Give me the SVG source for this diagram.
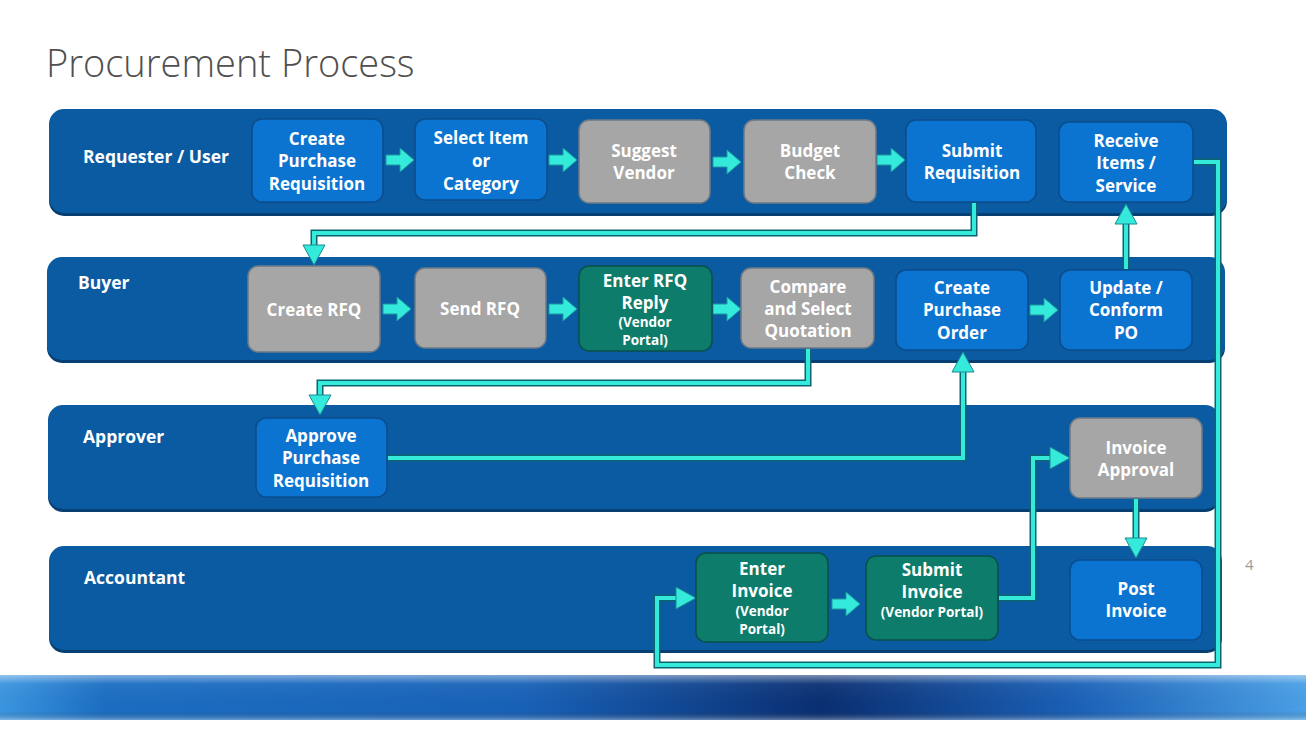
<svg xmlns="http://www.w3.org/2000/svg" width="1306" height="734" viewBox="0 0 1306 734">
<defs>
<style>
.title{font-family:"Open Sans","Liberation Sans",sans-serif;font-weight:300;font-size:38px;fill:#505050}
.lane{fill:#0b5ba2}
.laneShadow{fill:#073f73}
.lbl{font-family:"Open Sans","Liberation Sans",sans-serif;font-weight:700;font-size:17.5px;fill:#ffffff}
.t{font-family:"Open Sans","Liberation Sans",sans-serif;font-weight:700;font-size:17px;fill:#ffffff;text-anchor:middle}
.s{font-family:"Open Sans","Liberation Sans",sans-serif;font-weight:700;font-size:13.5px;fill:#ffffff;text-anchor:middle}
.blue{fill:#0b74d1;stroke:#0a4c8c;stroke-width:1.5}
.gray{fill:#a6a6a6;stroke:#6d7a86;stroke-width:1.5}
.green{fill:#0e7c6b;stroke:#0b4f4a;stroke-width:1.5}
.wireO{fill:none;stroke:#0d6470;stroke-width:7;stroke-linejoin:miter}
.wire{fill:none;stroke:#34eadb;stroke-width:4;stroke-linejoin:miter}
.blk{fill:#34eadb;stroke:#1a9aa0;stroke-width:1}
.pg{font-family:"Open Sans","Liberation Sans",sans-serif;font-size:15px;fill:#9a9a9a}
</style>
<marker id="ah" markerUnits="userSpaceOnUse" markerWidth="24" markerHeight="26" refX="0" refY="0" viewBox="-1 -13 24 26" orient="auto" overflow="visible">
<path d="M0,-11 L20,0 L0,11 Z" fill="#34eadb" stroke="#1a8a92" stroke-width="1"/>
</marker>
<path id="barrow" d="M0,-5 L14,-5 L14,-12 L28,0 L14,12 L14,5 L0,5 Z"/>
<linearGradient id="band" x1="0" y1="0" x2="1" y2="0">
<stop offset="0" stop-color="#3b96e0"/>
<stop offset="0.08" stop-color="#1b6ec3"/>
<stop offset="0.4" stop-color="#1862b8"/>
<stop offset="0.63" stop-color="#0a2f72"/>
<stop offset="0.82" stop-color="#1a60b6"/>
<stop offset="1" stop-color="#4aa0e6"/>
</linearGradient>
<linearGradient id="bandV" x1="0" y1="0" x2="0" y2="1">
<stop offset="0" stop-color="#ffffff" stop-opacity="0.45"/>
<stop offset="0.2" stop-color="#ffffff" stop-opacity="0.05"/>
<stop offset="0.8" stop-color="#000000" stop-opacity="0"/>
<stop offset="1" stop-color="#ffffff" stop-opacity="0.35"/>
</linearGradient>
</defs>
<rect width="1306" height="734" fill="#ffffff"/>
<text class="title" x="46" y="77">Procurement Process</text>

<g id="lanes">
<rect class="laneShadow" x="49" y="112" width="1178" height="104" rx="15"/>
<rect class="lane" x="49" y="109" width="1178" height="104" rx="15"/>
<rect class="laneShadow" x="47" y="260" width="1178" height="103" rx="15"/>
<rect class="lane" x="47" y="257" width="1178" height="103" rx="15"/>
<rect class="laneShadow" x="48" y="408" width="1172" height="104" rx="15"/>
<rect class="lane" x="48" y="405" width="1172" height="104" rx="15"/>
<rect class="laneShadow" x="49" y="549" width="1173" height="104" rx="15"/>
<rect class="lane" x="49" y="546" width="1173" height="104" rx="15"/>
<text class="lbl" x="83" y="163">Requester / User</text>
<text class="lbl" x="78" y="289">Buyer</text>
<text class="lbl" x="83" y="443">Approver</text>
<text class="lbl" x="84" y="584">Accountant</text>
</g>

<g id="connectors">
<path class="wireO" d="M974,203 V233 H314 V245"/>
<path class="wire" d="M974,203 V233 H314 V245" marker-end="url(#ah)"/>
<path class="wireO" d="M808,349 V383 H320 V395"/>
<path class="wire" d="M808,349 V383 H320 V395" marker-end="url(#ah)"/>
<path class="wireO" d="M388,458 H963 V372"/>
<path class="wire" d="M388,458 H963 V372" marker-end="url(#ah)"/>
<path class="wireO" d="M1126,269 V224"/>
<path class="wire" d="M1126,269 V224" marker-end="url(#ah)"/>
<path class="wireO" d="M1194,162 H1218 V665 H657 V598 H676"/>
<path class="wire" d="M1194,162 H1218 V665 H657 V598 H676" marker-end="url(#ah)"/>
<path class="wireO" d="M999,598 H1033 V458 H1050"/>
<path class="wire" d="M999,598 H1033 V458 H1050" marker-end="url(#ah)"/>
<path class="wireO" d="M1136,499 V538"/>
<path class="wire" d="M1136,499 V538" marker-end="url(#ah)"/>
<use href="#barrow" class="blk" transform="translate(386,160)"/>
<use href="#barrow" class="blk" transform="translate(549,160)"/>
<use href="#barrow" class="blk" transform="translate(713,162)"/>
<use href="#barrow" class="blk" transform="translate(877,160)"/>
<use href="#barrow" class="blk" transform="translate(383,309)"/>
<use href="#barrow" class="blk" transform="translate(549,309)"/>
<use href="#barrow" class="blk" transform="translate(713,309)"/>
<use href="#barrow" class="blk" transform="translate(1030,310)"/>
<use href="#barrow" class="blk" transform="translate(832,604)"/>
</g>

<g id="n-create-pr"><rect class="blue" x="252" y="119" width="131" height="83" rx="10"/>
<text class="t" x="317" y="145">Create</text><text class="t" x="317" y="167">Purchase</text><text class="t" x="317" y="190">Requisition</text></g>
<g id="n-select-item"><rect class="blue" x="415" y="119" width="132" height="81" rx="10"/>
<text class="t" x="481" y="144">Select Item</text><text class="t" x="481" y="167">or</text><text class="t" x="481" y="190">Category</text></g>
<g id="n-suggest-vendor"><rect class="gray" x="579" y="120" width="131" height="83" rx="10"/>
<text class="t" x="644" y="157">Suggest</text><text class="t" x="644" y="179">Vendor</text></g>
<g id="n-budget-check"><rect class="gray" x="744" y="120" width="132" height="83" rx="10"/>
<text class="t" x="810" y="157">Budget</text><text class="t" x="810" y="179">Check</text></g>
<g id="n-submit-req"><rect class="blue" x="906" y="120" width="130" height="82" rx="10"/>
<text class="t" x="972" y="157">Submit</text><text class="t" x="972" y="179">Requisition</text></g>
<g id="n-receive-items"><rect class="blue" x="1059" y="122" width="134" height="80" rx="10"/>
<text class="t" x="1126" y="147">Receive</text><text class="t" x="1126" y="169">Items /</text><text class="t" x="1126" y="192">Service</text></g>

<g id="n-create-rfq"><rect class="gray" x="248" y="266" width="132" height="86" rx="10"/>
<text class="t" x="314" y="316">Create RFQ</text></g>
<g id="n-send-rfq"><rect class="gray" x="415" y="268" width="131" height="80" rx="10"/>
<text class="t" x="480" y="315">Send RFQ</text></g>
<g id="n-enter-rfq"><rect class="green" x="579" y="266" width="133" height="85" rx="10"/>
<text class="t" x="645" y="287">Enter RFQ</text><text class="t" x="645" y="309">Reply</text><text class="s" x="645" y="327">(Vendor</text><text class="s" x="645" y="345">Portal)</text></g>
<g id="n-compare"><rect class="gray" x="741" y="268" width="133" height="80" rx="10"/>
<text class="t" x="808" y="293">Compare</text><text class="t" x="808" y="315">and Select</text><text class="t" x="808" y="337">Quotation</text></g>
<g id="n-create-po"><rect class="blue" x="896" y="270" width="132" height="80" rx="10"/>
<text class="t" x="962" y="294">Create</text><text class="t" x="962" y="316">Purchase</text><text class="t" x="962" y="339">Order</text></g>
<g id="n-update-po"><rect class="blue" x="1060" y="270" width="132" height="80" rx="10"/>
<text class="t" x="1126" y="294">Update /</text><text class="t" x="1126" y="316">Conform</text><text class="t" x="1126" y="339">PO</text></g>

<g id="n-approve-pr"><rect class="blue" x="256" y="418" width="131" height="79" rx="10"/>
<text class="t" x="321" y="442">Approve</text><text class="t" x="321" y="464">Purchase</text><text class="t" x="321" y="487">Requisition</text></g>
<g id="n-invoice-approval"><rect class="gray" x="1070" y="418" width="132" height="80" rx="10"/>
<text class="t" x="1136" y="454">Invoice</text><text class="t" x="1136" y="476">Approval</text></g>

<g id="n-enter-invoice"><rect class="green" x="696" y="553" width="132" height="89" rx="10"/>
<text class="t" x="762" y="575">Enter</text><text class="t" x="762" y="597">Invoice</text><text class="s" x="762" y="616">(Vendor</text><text class="s" x="762" y="634">Portal)</text></g>
<g id="n-submit-invoice"><rect class="green" x="866" y="556" width="132" height="84" rx="10"/>
<text class="t" x="932" y="576">Submit</text><text class="t" x="932" y="598">Invoice</text><text class="s" x="932" y="617">(Vendor Portal)</text></g>
<g id="n-post-invoice"><rect class="blue" x="1070" y="560" width="132" height="80" rx="10"/>
<text class="t" x="1136" y="595">Post</text><text class="t" x="1136" y="617">Invoice</text></g>

<text class="pg" x="1245" y="570">4</text>

<g id="band">
<rect x="0" y="675" width="1306" height="45" fill="url(#band)"/>
<rect x="0" y="675" width="1306" height="45" fill="url(#bandV)"/>
</g>
</svg>
